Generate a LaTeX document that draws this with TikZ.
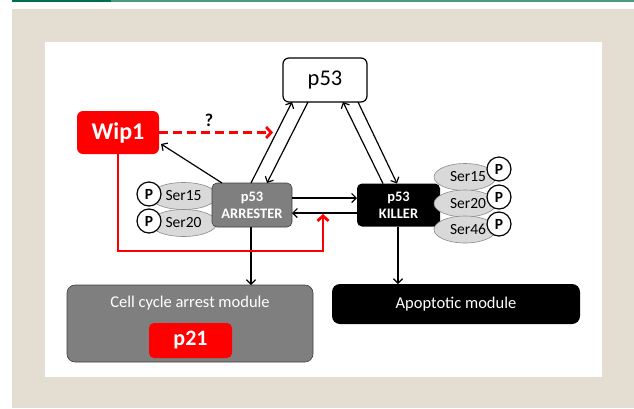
\documentclass[tikz,border=0pt]{standalone}
\usepackage{fontspec}
\setmainfont{Carlito}
\usetikzlibrary{arrows.meta,shapes.geometric}
\definecolor{beige}{HTML}{E4DED2}
\definecolor{dgreen}{HTML}{00704A}
\definecolor{lgreen}{HTML}{4A9C7C}
\definecolor{boxgray}{HTML}{7F7F7F}
\definecolor{edgegray}{HTML}{404040}
\definecolor{elgray}{HTML}{D9D9D9}
\definecolor{elborder}{HTML}{8C8C8C}
\definecolor{pred}{HTML}{FF0000}
\begin{document}
\begin{tikzpicture}[x=1pt,y=-1pt,
  every node/.style={inner sep=0pt,outer sep=0pt},
  topbox/.style={draw=black,line width=1.2pt,fill=white,rounded corners=6pt,
    minimum width=84pt,minimum height=44pt,font={\fontsize{22.5}{24}\selectfont}},
  wipbox/.style={fill=pred,rounded corners=6pt,minimum width=82pt,minimum height=43pt,
    text=white,font={\bfseries\fontsize{24}{26}\selectfont}},
  arrbox/.style={fill=boxgray,draw=edgegray,line width=0.6pt,rounded corners=5pt,
    minimum width=80pt,minimum height=44pt,text=white,align=center,
    font={\bfseries\fontsize{14.5}{17}\selectfont}},
  kilbox/.style={fill=black,rounded corners=5pt,minimum width=83pt,minimum height=43pt,
    text=white,align=center,font={\bfseries\fontsize{14.5}{17}\selectfont}},
  serell/.style={ellipse,fill=elgray,draw=elborder,line width=0.6pt,
    minimum width=#1,minimum height=27pt,font={\fontsize{15.5}{17}\selectfont}},
  pcirc/.style={circle,draw=black,line width=1.2pt,fill=white,minimum size=24pt,
    font={\bfseries\fontsize{15.5}{17}\selectfont}},
  modbox/.style={rounded corners=8pt,text=white},
  blk/.style={draw=black,line width=1.2pt,-{Straight Barb[length=4.5pt,width=9pt]}},
  redarr/.style={draw=pred,line width=2.8pt,-{Straight Barb[length=5pt,width=11pt]}},
]
% background
\fill[white] (0,0) rectangle (634,408);
\fill[beige] (12,9) rectangle (634,408);
\fill[white] (45,42) rectangle (602,377);
\fill[dgreen] (12,0) rectangle (111,1.6);
\fill[lgreen] (111,0) rectangle (634,1.6);
\useasboundingbox (0,0) rectangle (634,408);

% top p53
\node[topbox] (p53) at (325,80) {p53};
% Wip1
\node[wipbox] (wip) at (118,132.5) {Wip1};
\node[font={\bfseries\fontsize{18}{20}\selectfont}] (q) at (209,120.5) {?};
\coordinate (qtip) at (273,132.5);

% arrester ellipses
\node[serell=67pt] (a15) at (183.5,196) {Ser15};
\node[serell=67pt] (a20) at (183.5,223) {Ser20};
\node[pcirc] (ap1) at (149,194) {P};
\node[pcirc] (ap2) at (149,221) {P};
\node[arrbox] (arr) at (252,205) {p53\\ARRESTER};

% killer
\node[kilbox] (kil) at (398.5,205) {p53\\KILLER};
\node[serell=62pt] (k15) at (465,177) {\hspace*{6pt}Ser15};
\node[serell=62pt] (k20) at (465,203.5) {\hspace*{6pt}Ser20};
\node[serell=62pt] (k46) at (465,229.5) {\hspace*{6pt}Ser46};
\node[pcirc] (kp1) at (499,169) {P};
\node[pcirc] (kp2) at (499,197) {P};
\node[pcirc] (kp3) at (499,224) {P};

% modules
\node[modbox,fill=boxgray,draw=edgegray,line width=0.6pt,minimum width=246pt,minimum height=77pt] (cc) at (190,323.5) {};
\node[text=white,font={\fontsize{16.5}{18}\selectfont}] (cct) at (190,303) {Cell cycle arrest module};
\node[fill=pred,rounded corners=5pt,minimum width=83pt,minimum height=35pt,text=white,
  font={\bfseries\fontsize{22}{24}\selectfont}] (p21) at (190.5,340.5) {p21};
\node[modbox,fill=black,minimum width=248pt,minimum height=40pt,
  font={\fontsize{16.5}{18}\selectfont}] (apo) at (456,304) {Apoptotic module};

% connectors p53 <-> arrester/killer
\draw[blk] ([xshift=-1pt]arr.north) -- ([xshift=-33pt]p53.south);
\draw[blk] ([xshift=-17pt]p53.south) -- ([xshift=15pt]arr.north);
\draw[blk] ([xshift=-15.5pt]kil.north) -- ([xshift=18pt]p53.south);
\draw[blk] ([xshift=33pt]p53.south) -- ([xshift=-1.5pt]kil.north);
% arrester <-> killer
\draw[blk] ([yshift=7pt]arr.east) -- ([yshift=7pt]arr.east -| kil.west);
\draw[blk] ([yshift=-8pt]kil.west) -- ([yshift=-8pt]kil.west -| arr.east);
% arrester -> Wip1
\draw[blk] ([xshift=10pt]arr.north west) -- ([xshift=2pt,yshift=-11.5pt]wip.east);
% downward
\draw[blk] ([xshift=-1pt]arr.south) -- ([xshift=-1pt]arr.south |- cc.north);
\draw[blk] ([xshift=-0.5pt]kil.south) -- ([xshift=-0.5pt]kil.south |- apo.north);
% red
\draw[redarr,dash pattern=on 9pt off 5pt] (wip.east) -- (qtip);
\coordinate (rb) at (323,251);
\coordinate (rt) at (323,214);
\draw[redarr] (wip.south) |- (rb) -- (rt);
\end{tikzpicture}
\end{document}
